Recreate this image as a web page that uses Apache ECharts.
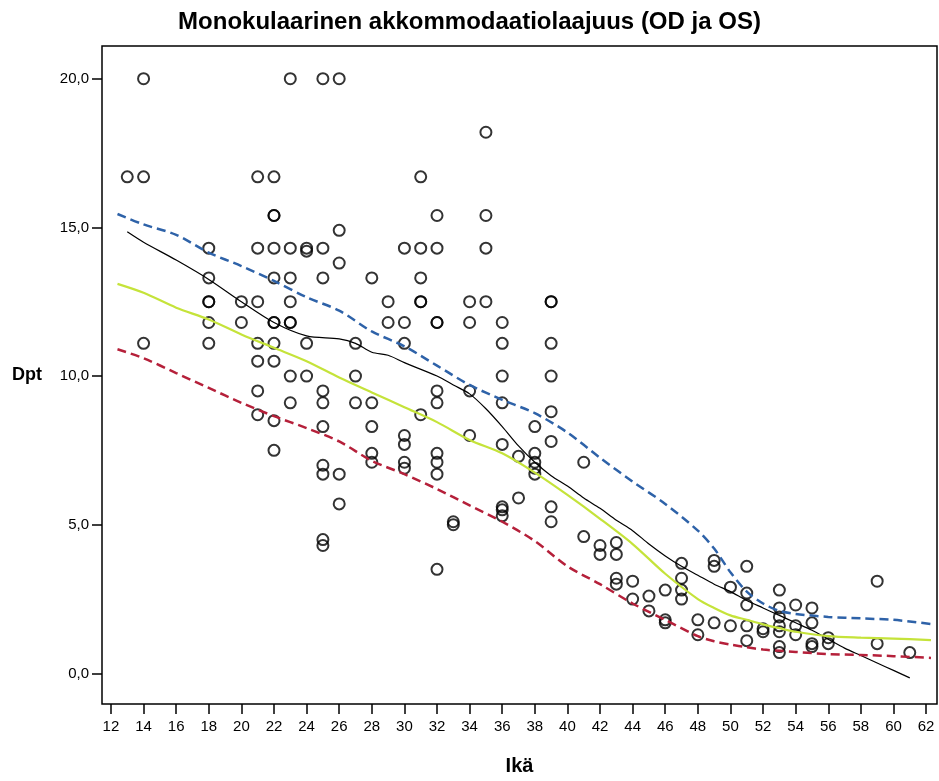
<!DOCTYPE html>
<html>
<head>
<meta charset="utf-8">
<script src="https://cdn.jsdelivr.net/npm/echarts@6/dist/echarts.min.js"></script>
<style>html,body{margin:0;padding:0;background:#fff}#c{width:939px;height:781px}</style>
</head>
<body>
<div id="c"></div>
<script>
// ---- data ----
var pointAges = [13,14,18,20,21,22,23,24,25,26,27,28,29,30,31,32,33,34,35,36,37,38,39,41,42,43,44,45,46,47,48,49,50,51,52,53,54,55,56,59,61];
var pointDpt = [
  [16.7],
  [20,16.7,11.1],
  [14.3,13.3,12.5,12.5,11.8,11.1],
  [12.5,11.8],
  [16.7,14.3,12.5,11.1,10.5,9.5,8.7],
  [16.7,15.4,15.4,14.3,13.3,11.8,11.8,11.1,10.5,8.5,7.5],
  [20,14.3,13.3,12.5,11.8,11.8,10.0,9.1],
  [14.3,14.2,11.1,10.0],
  [20,14.3,13.3,9.5,9.1,8.3,7.0,6.7,4.5,4.3],
  [20,14.9,13.8,6.7,5.7],
  [11.1,10.0,9.1],
  [13.3,9.1,8.3,7.4,7.1],
  [12.5,11.8],
  [14.3,11.8,11.1,8.0,7.7,7.1,6.9],
  [16.7,14.3,13.3,12.5,12.5,8.7],
  [15.4,14.3,11.8,11.8,9.5,9.1,7.4,7.1,6.7,3.5],
  [5.1,5.0],
  [12.5,11.8,9.5,8.0],
  [18.2,15.4,14.3,12.5],
  [11.8,11.1,10.0,9.1,7.7,5.6,5.5,5.3],
  [7.3,5.9],
  [8.3,7.4,7.1,6.9,6.7],
  [12.5,12.5,11.1,10.0,8.8,7.8,5.6,5.1],
  [7.1,4.6],
  [4.3,4.0],
  [4.4,4.0,3.2,3.0],
  [3.1,2.5],
  [2.6,2.1],
  [2.8,1.8,1.7],
  [3.7,3.2,2.8,2.5],
  [1.8,1.3],
  [3.8,3.6,1.7],
  [2.9,1.6],
  [3.6,2.7,2.3,1.6,1.1],
  [1.5,1.4],
  [2.8,2.2,1.9,1.6,1.4,0.9,0.7],
  [2.3,1.6,1.3],
  [2.2,1.7,1.0,0.9],
  [1.2,1.0],
  [3.1,1.0],
  [0.7]
];

// black fit line
var fitAge = [13,14,16,18,20,22,24,26,27,28,29,30,32,33,34,35,36,37,38,39,40,41,42,43,44,45,46,47,48,49,50,51,52,53,54,55,56,57,58,59,60,61];
var fitDpt = [14.85,14.5,13.9,13.25,12.5,11.8,11.35,11.25,11.1,10.8,10.7,10.45,10.0,9.7,9.4,8.9,8.3,7.65,7.1,6.65,6.3,5.9,5.55,5.15,4.8,4.35,3.95,3.6,3.3,3.0,2.75,2.45,2.2,1.95,1.7,1.45,1.15,0.85,0.6,0.35,0.1,-0.15];

// percentile bands
var bandAge   = [12.4,14,16,18,20,22,24,26,28,30,32,34,36,38,40,42,44,46,48,49,50,51,52,53,54,56,58,60,62.3];
var bandUpper = [15.45,15.1,14.75,14.15,13.7,13.2,12.65,12.2,11.5,11.0,10.35,9.7,9.2,8.75,8.1,7.25,6.45,5.7,4.8,4.2,3.4,2.75,2.35,2.1,2.0,1.9,1.85,1.8,1.66];
var bandMid   = [13.1,12.8,12.3,11.9,11.4,10.95,10.5,9.95,9.45,8.95,8.45,7.85,7.4,6.75,6.0,5.2,4.35,3.35,2.5,2.2,1.95,1.8,1.65,1.52,1.4,1.25,1.2,1.17,1.12];
var bandLower = [10.9,10.6,10.1,9.6,9.1,8.65,8.25,7.8,7.15,6.7,6.2,5.65,5.1,4.45,3.6,3.0,2.35,1.8,1.25,1.08,0.97,0.88,0.8,0.76,0.72,0.65,0.62,0.58,0.52];

var xTicks = [12,14,16,18,20,22,24,26,28,30,32,34,36,38,40,42,44,46,48,50,52,54,56,58,60,62];
var yTicks = [0,5,10,15,20];

// ---- build ----
var scatterData = [];
pointAges.forEach(function(a, i){ pointDpt[i].forEach(function(v){ scatterData.push([a, v]); }); });
function zip(xs, ys){ return xs.map(function(x,i){ return [x, ys[i]]; }); }

var FONT = '"Liberation Sans", Arial, sans-serif';
var chart = echarts.init(document.getElementById('c'), null, {renderer:'canvas'});
chart.setOption({
  backgroundColor:'#fff',
  animation:false,
  title:{
    text:'Monokulaarinen akkommodaatiolaajuus (OD ja OS)',
    left:'center', top:5,
    textStyle:{fontFamily:FONT, fontSize:24, fontWeight:'bold', color:'#000'}
  },
  grid:{left:102, right:2, top:46, bottom:77, outerBoundsMode:'none', containLabel:false,
        show:true, borderColor:'#000', borderWidth:1.5, backgroundColor:'#fff'},
  xAxis:{
    type:'value', min:11.45, max:62.67,
    name:'Ikä', nameLocation:'middle', nameGap:52,
    nameTextStyle:{fontFamily:FONT, fontSize:20, fontWeight:'bold', color:'#000'},
    axisLine:{show:false, onZero:false},
    splitLine:{show:false},
    axisTick:{show:true, length:10, customValues:xTicks, lineStyle:{color:'#000', width:1.5}},
    axisLabel:{customValues:xTicks, fontFamily:FONT, fontSize:15, color:'#000', margin:15}
  },
  yAxis:{
    type:'value', min:-1.03, max:21.1,
    name:'Dpt', nameLocation:'middle', nameRotate:0, nameGap:60,
    nameTextStyle:{fontFamily:FONT, fontSize:18, fontWeight:'bold', color:'#000'},
    axisLine:{show:false, onZero:false},
    splitLine:{show:false},
    axisTick:{show:true, length:10, customValues:yTicks, lineStyle:{color:'#000', width:1.5}},
    axisLabel:{customValues:yTicks, fontFamily:FONT, fontSize:15, color:'#000', margin:13,
      formatter:function(v){ return v.toFixed(1).replace('.', ','); }}
  },
  series:[
    {type:'scatter', data:scatterData, symbol:'circle', symbolSize:11,
     itemStyle:{color:'rgba(0,0,0,0)', borderColor:'#000', borderWidth:2}, z:2},
    {type:'line', data:zip(bandAge,bandUpper), smooth:0.3, showSymbol:false,
     lineStyle:{color:'#2e62a8', width:2.5, type:[9,5]}, z:3},
    {type:'line', data:zip(fitAge,fitDpt), smooth:0.3, showSymbol:false,
     lineStyle:{color:'#000', width:1.2}, z:3},
    {type:'line', data:zip(bandAge,bandMid), smooth:0.3, showSymbol:false,
     lineStyle:{color:'#c5e33a', width:2.2}, z:3},
    {type:'line', data:zip(bandAge,bandLower), smooth:0.3, showSymbol:false,
     lineStyle:{color:'#b5203a', width:2.5, type:[9,5]}, z:3}
  ]
});
</script>
</body>
</html>
